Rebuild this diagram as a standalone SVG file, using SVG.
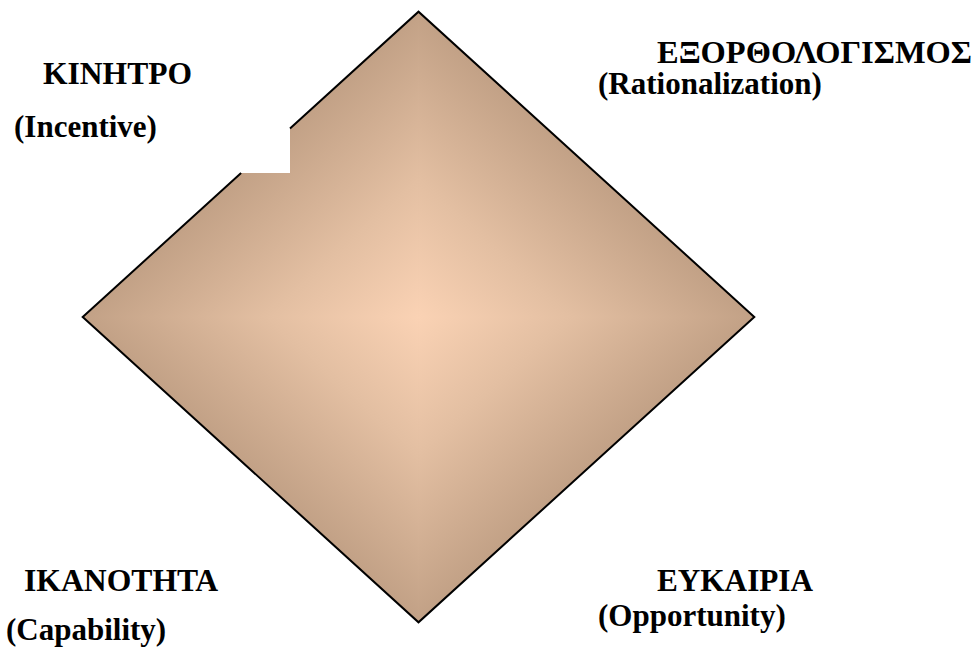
<svg xmlns="http://www.w3.org/2000/svg" width="976" height="651" viewBox="0 0 976 651">
  <defs>
    <radialGradient id="base" cx="418.5" cy="317" r="300" gradientUnits="userSpaceOnUse">
      <stop offset="0" stop-color="#F9D1B3"/>
      <stop offset="1" stop-color="#C6A58A"/>
    </radialGradient>
    <linearGradient id="gTR" gradientUnits="userSpaceOnUse" x1="418.5" y1="317" x2="570.5" y2="149.8">
      <stop offset="0" stop-color="#FAD2B4"/>
      <stop offset="0.45" stop-color="#E3BFA2"/>
      <stop offset="1" stop-color="#C2A186"/>
    </linearGradient>
    <linearGradient id="gTL" href="#gTR" x1="418.5" y1="317" x2="266.5" y2="149.8"/>
    <linearGradient id="gBR" href="#gTR" x1="418.5" y1="317" x2="570.5" y2="484.2"/>
    <linearGradient id="gBL" href="#gTR" x1="418.5" y1="317" x2="266.5" y2="484.2"/>
    <clipPath id="notched">
      <polygon points="290,128.5 418.5,11.7 754.3,317 418.5,622.3 82.7,317 241.1,173 290,173"/>
    </clipPath>
  </defs>

  <g id="diamond">
    <g clip-path="url(#notched)">
      <polygon points="418.5,11.7 754.3,317 418.5,622.3 82.7,317" fill="url(#base)"/>
      <polygon points="418.5,317 418.5,11.7 754.3,317" fill="url(#gTR)"/>
      <polygon points="418.5,317 418.5,11.7 82.7,317" fill="url(#gTL)"/>
      <polygon points="418.5,317 754.3,317 418.5,622.3" fill="url(#gBR)"/>
      <polygon points="418.5,317 82.7,317 418.5,622.3" fill="url(#gBL)"/>
    </g>
    <path fill="none" stroke="#000" stroke-width="2" d="M290,128.5 L418.5,11.7 L754.3,317 L418.5,622.3 L82.7,317 L241.1,173"/>
  </g>

  <g id="incentive">
    <text x="43" y="84" style="font-family:'Liberation Serif',serif;font-weight:700;font-size:31px" textLength="149" lengthAdjust="spacingAndGlyphs">ΚΙΝΗΤΡΟ</text>
    <text x="14" y="137" style="font-family:'Liberation Serif',serif;font-weight:700;font-size:31px">(Incentive)</text>
  </g>
  <g id="rationalization">
    <text x="657" y="63" style="font-family:'Liberation Serif',serif;font-weight:700;font-size:31px" textLength="315" lengthAdjust="spacingAndGlyphs">ΕΞΟΡΘΟΛΟΓΙΣΜΟΣ</text>
    <text x="598" y="94" style="font-family:'Liberation Serif',serif;font-weight:700;font-size:31px">(Rationalization)</text>
  </g>
  <g id="capability">
    <text x="24" y="591" style="font-family:'Liberation Serif',serif;font-weight:700;font-size:31px" textLength="194" lengthAdjust="spacingAndGlyphs">ΙΚΑΝΟΤΗΤΑ</text>
    <text x="6" y="640" style="font-family:'Liberation Serif',serif;font-weight:700;font-size:31px">(Capability)</text>
  </g>
  <g id="opportunity">
    <text x="657" y="591" style="font-family:'Liberation Serif',serif;font-weight:700;font-size:31px" textLength="156" lengthAdjust="spacingAndGlyphs">ΕΥΚΑΙΡΙΑ</text>
    <text x="598" y="626" style="font-family:'Liberation Serif',serif;font-weight:700;font-size:31px">(Opportunity)</text>
  </g>
</svg>
